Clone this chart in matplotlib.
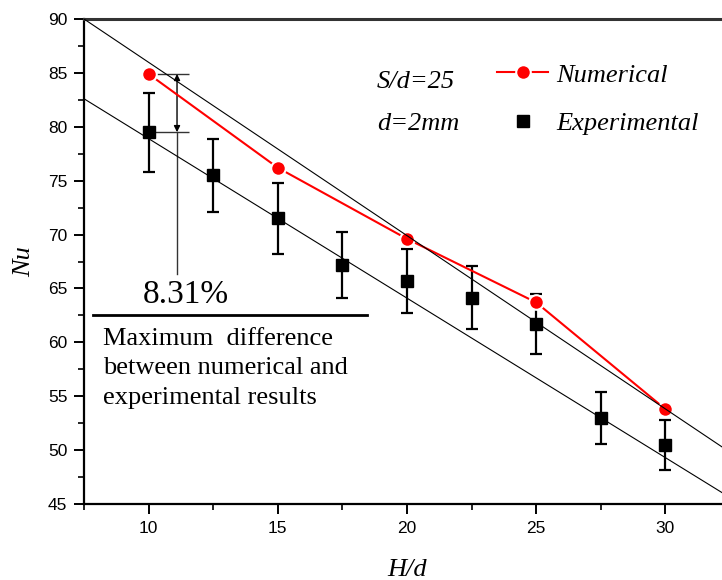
import numpy as np
import matplotlib
matplotlib.use("Agg")
import matplotlib.pyplot as plt
from matplotlib.lines import Line2D
from matplotlib.ticker import MultipleLocator

# 数值结果
hd_num = [10, 15, 20, 25, 30]
nu_num = [84.9, 76.2, 69.6, 63.7, 53.8]

# 实验结果及误差
hd_exp = [10, 12.5, 15, 17.5, 20, 22.5, 25, 27.5, 30]
nu_exp = [79.5, 75.5, 71.5, 67.2, 65.7, 64.15, 61.7, 53.0, 50.5]
err_exp = [3.65, 3.4, 3.27, 3.05, 3.0, 2.95, 2.8, 2.4, 2.3]

# 两条包络线的端点
upper_x = [7.5, 32.5]
upper_y = [90.0, 49.8]
lower_x = [7.5, 32.5]
lower_y = [82.6, 45.6]

# 最大差值标注
diff_x = 11.1
diff_top = 84.9
diff_bot = 79.5
diff_end = 66.3
sep_x = [7.84, 18.46]
sep_y = 62.5

serif = ['Liberation Serif', 'DejaVu Serif']
plt.rcParams['font.family'] = ['Liberation Sans', 'DejaVu Sans']

fig = plt.figure(figsize=(7.22, 5.80), dpi=100)
ax = fig.add_axes([84 / 722, 76 / 580, 646 / 722, 485 / 580])

# 参考直线
ax.plot(upper_x, upper_y, color='black', lw=0.8, zorder=6)
ax.plot(lower_x, lower_y, color='black', lw=0.8, zorder=6)

# 实验数据
ax.errorbar(hd_exp, nu_exp, yerr=err_exp, fmt='s', color='black', ms=8.4,
            elinewidth=1.6, capsize=4, capthick=1.6, zorder=4)

# 数值数据
ax.plot(hd_num, nu_num, color='red', lw=1.5, marker='o', ms=10.5,
        markerfacecolor='red', markeredgecolor='white', markeredgewidth=1.5,
        zorder=5)

# 标注
ax.hlines(diff_top, 10.12, 11.56, color='#333333', lw=1)
ax.hlines(diff_bot, 10.25, 11.56, color='#333333', lw=1)
ax.annotate('', xy=(diff_x, diff_top), xytext=(diff_x, diff_bot),
            arrowprops=dict(arrowstyle='<|-|>', color='black', lw=1,
                            mutation_scale=9, shrinkA=0, shrinkB=0))
ax.plot([diff_x, diff_x], [diff_bot, diff_end], color='#333333', lw=1)
ax.text(11.45, 64.4, '8.31%', family=serif, fontsize=24, ha='center', va='center')
ax.plot(sep_x, [sep_y, sep_y], color='black', lw=2)
ax.text(8.25, 61.3, 'Maximum  difference\nbetween numerical and\nexperimental results',
        family=serif, fontsize=19, ha='left', va='top', linespacing=1.42)

ax.text(18.83, 84.2, 'S/d=25', family=serif, style='italic', fontsize=19, va='center')
ax.text(18.83, 80.3, 'd=2mm', family=serif, style='italic', fontsize=19, va='center')

handles = [
    Line2D([], [], color='red', lw=1.5, marker='o', ms=10.5, markerfacecolor='red',
           markeredgecolor='white', markeredgewidth=1.5),
    Line2D([], [], color='black', ls='none', marker='s', ms=8.4),
]
leg = ax.legend(handles, ['Numerical', 'Experimental'], loc='upper left',
                bbox_to_anchor=(0.619, 0.936), frameon=False, borderpad=0,
                handlelength=1.93, handletextpad=0.3, labelspacing=0.95,
                prop=dict(family=serif, style='italic', size=19))

ax.set_xlim(7.5, 32.5)
ax.set_ylim(45, 90)
ax.xaxis.set_major_locator(MultipleLocator(5))
ax.xaxis.set_minor_locator(MultipleLocator(2.5))
ax.yaxis.set_major_locator(MultipleLocator(5))
ax.yaxis.set_minor_locator(MultipleLocator(2.5))
ax.tick_params(which='major', direction='out', length=7, width=1.4, labelsize=12.5, pad=5)
ax.tick_params(which='minor', direction='out', length=4, width=1.2)

for s in ['left', 'bottom']:
    ax.spines[s].set_linewidth(1.6)
ax.spines['top'].set_linewidth(2.2)
ax.spines['top'].set_color('#333333')
ax.spines['right'].set_visible(False)

ax.set_xlabel('H/d', family=serif, style='italic', fontsize=19)
ax.set_ylabel('Nu', family=serif, style='italic', fontsize=19)
ax.xaxis.set_label_coords(0.5, -0.114)
ax.yaxis.set_label_coords(-0.076, 0.5)

fig.savefig('out.png', dpi=100)
